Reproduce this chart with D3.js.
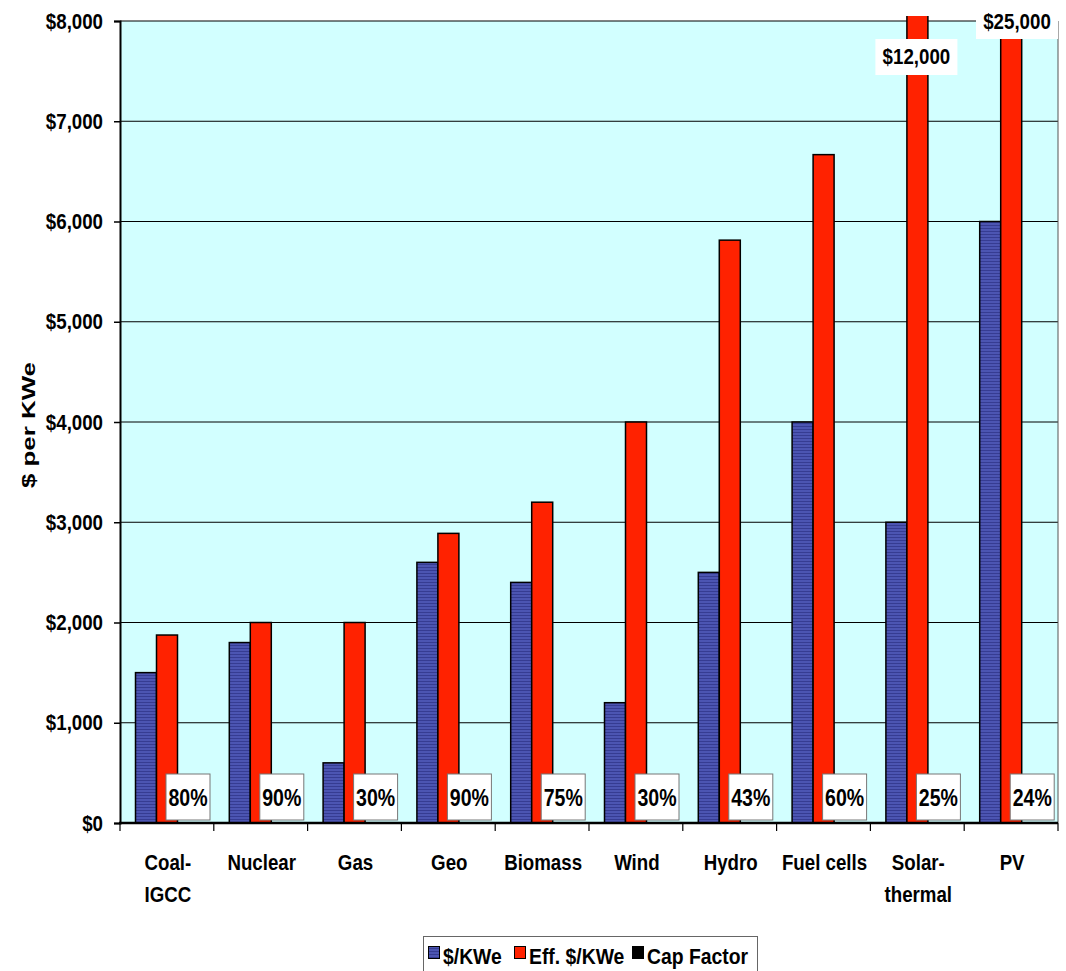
<!DOCTYPE html>
<html>
<head>
<meta charset="utf-8">
<script src="https://cdn.jsdelivr.net/npm/d3@7"></script>
<style>
  body { margin: 0; background: #fff; }
  text { font-family: "Liberation Sans", Arial, sans-serif; font-weight: bold; fill: #000; }
</style>
</head>
<body>
<div id="chart"></div>
<script>
const width = 1066;
const height = 971;

// data
const categories = ["Coal-\nIGCC", "Nuclear", "Gas", "Geo", "Biomass", "Wind", "Hydro", "Fuel cells", "Solar-\nthermal", "PV"];
const seriesNames = ["$/KWe", "Eff. $/KWe", "Cap Factor"];
const costPerKWe = [1500, 1800, 600, 2600, 2400, 1200, 2500, 4000, 3000, 6000];
const effCostPerKWe = [1875, 2000, 2000, 2889, 3200, 4000, 5814, 6667, 12000, 25000];
const capFactor = [0.80, 0.90, 0.30, 0.90, 0.75, 0.30, 0.43, 0.60, 0.25, 0.24];
const capLabels = ["80%", "90%", "30%", "90%", "75%", "30%", "43%", "60%", "25%", "24%"];
const yTicks = [0, 1000, 2000, 3000, 4000, 5000, 6000, 7000, 8000];
const overflowLabels = [{cat: 8, text: "$12,000"}, {cat: 9, text: "$25,000"}];

const margin = {top: 21, right: 8, bottom: 148, left: 120};
const plotW = width - margin.left - margin.right;
const plotH = height - margin.top - margin.bottom;
const sx = 0.85; // narrow font squeeze (no Arial Narrow installed)

// squeeze a text horizontally around its own x
function narrow(sel, k) {
  sel.each(function() {
    const t = d3.select(this);
    const x = +t.attr("x") || 0;
    t.attr("x", x / k).attr("transform", `scale(${k},1)`);
    t.selectAll("tspan").attr("x", x / k);
  });
}

const svg = d3.select("#chart")
  .append("svg")
    .attr("width", width)
    .attr("height", height);

const defs = svg.append("defs");
const stripes = defs.append("pattern")
  .attr("id", "blueStripes")
  .attr("patternUnits", "userSpaceOnUse")
  .attr("width", 4)
  .attr("height", 3);
stripes.append("rect").attr("width", 4).attr("height", 3).attr("fill", "#4c55b2");
stripes.append("rect").attr("width", 4).attr("height", 1).attr("fill", "#363c92");

defs.append("clipPath")
  .attr("id", "barClip")
  .append("rect")
    .attr("x", margin.left)
    .attr("y", 16)
    .attr("width", plotW)
    .attr("height", plotH + 6);

/* ----------------------- scales ----------------------- */
const x0 = d3.scaleBand()
  .domain(d3.range(categories.length))
  .range([margin.left, margin.left + plotW]);

const x1 = d3.scaleBand()
  .domain(seriesNames)
  .range([15.5, 78.5]);

const y = d3.scaleLinear()
  .domain([0, 8000])
  .range([margin.top + plotH, margin.top]);

// plot background
svg.append("rect")
  .attr("x", margin.left)
  .attr("y", margin.top)
  .attr("width", plotW)
  .attr("height", plotH)
  .attr("fill", "#d2ffff");

// gridlines
svg.append("g")
  .selectAll("line")
  .data(yTicks.slice(1))
  .join("line")
    .attr("x1", margin.left)
    .attr("x2", margin.left + plotW)
    .attr("y1", d => y(d))
    .attr("y2", d => y(d))
    .attr("stroke", "#000")
    .attr("stroke-width", 1);

// right border
svg.append("line")
  .attr("x1", margin.left + plotW).attr("x2", margin.left + plotW)
  .attr("y1", margin.top).attr("y2", margin.top + plotH)
  .attr("stroke", "#555").attr("stroke-width", 1);

/* ----------------------- bars ----------------------- */
const rows = categories.map((c, i) => ({
  i: i,
  vals: [
    {s: seriesNames[0], v: costPerKWe[i], fill: "url(#blueStripes)"},
    {s: seriesNames[1], v: effCostPerKWe[i], fill: "#ff2200"},
    {s: seriesNames[2], v: capFactor[i], fill: "#000"}
  ]
}));

const barG = svg.append("g").attr("clip-path", "url(#barClip)");
barG.selectAll("g")
  .data(rows)
  .join("g")
    .attr("transform", d => `translate(${x0(d.i)},0)`)
  .selectAll("rect")
  .data(d => d.vals)
  .join("rect")
    .attr("x", d => x1(d.s))
    .attr("width", x1.bandwidth())
    .attr("y", d => y(d.v))
    .attr("height", d => y(0) - y(d.v))
    .attr("fill", d => d.fill)
    .attr("stroke", "#000")
    .attr("stroke-width", 1.5);

// cap factor labels
const capG = svg.append("g")
  .selectAll("g")
  .data(capLabels)
  .join("g")
    .attr("transform", (d, i) => `translate(${x0(i) + x1(seriesNames[2]) + x1.bandwidth() / 2},${y(0) - 3})`);
capG.append("rect")
  .attr("x", -22)
  .attr("y", -46)
  .attr("width", 44)
  .attr("height", 46)
  .attr("fill", "#fff")
  .attr("stroke", "#777")
  .attr("stroke-width", 1);
capG.append("text")
  .attr("text-anchor", "middle")
  .attr("y", -14)
  .attr("font-size", 23)
  .text(d => d)
  .call(narrow, sx);

// overflow labels
const ovX = d => d.cat === 9 ? margin.left + plotW - 41 : x0(d.cat) + x1(seriesNames[1]) + x1.bandwidth() / 2 - 1;
const ovG = svg.append("g")
  .selectAll("g")
  .data(overflowLabels)
  .join("g");
ovG.append("rect")
  .attr("x", d => ovX(d) - 41)
  .attr("y", d => d.cat === 9 ? 0 : 39)
  .attr("width", 82)
  .attr("height", d => d.cat === 9 ? 39 : 36)
  .attr("fill", "#fff");
ovG.append("text")
  .attr("x", ovX)
  .attr("y", d => d.cat === 9 ? 29 : 64)
  .attr("text-anchor", "middle")
  .attr("font-size", 22)
  .text(d => d.text)
  .call(narrow, sx);

/* ----------------------- axes ----------------------- */
const yAxis = svg.append("g")
  .attr("transform", `translate(${margin.left},0)`)
  .call(d3.axisLeft(y).tickValues(yTicks).tickFormat(d => "$" + d3.format(",")(d)).tickSize(6).tickPadding(11));
yAxis.select(".domain").attr("stroke", "#000").attr("stroke-width", 2);
yAxis.selectAll(".tick line").attr("stroke", "#000").attr("stroke-width", 1.5);
yAxis.selectAll("text")
  .attr("font-size", 22)
  .attr("fill", "#000")
  .style("font-family", "'Liberation Sans', Arial, sans-serif")
  .style("font-weight", "bold")
  .call(narrow, sx);

// x axis line and ticks
svg.append("line")
  .attr("x1", margin.left - 1).attr("x2", margin.left + plotW)
  .attr("y1", y(0)).attr("y2", y(0))
  .attr("stroke", "#000").attr("stroke-width", 2.5);
svg.append("g")
  .selectAll("line")
  .data(d3.range(categories.length + 1))
  .join("line")
    .attr("x1", i => margin.left + i * x0.step())
    .attr("x2", i => margin.left + i * x0.step())
    .attr("y1", y(0))
    .attr("y2", y(0) + 8)
    .attr("stroke", "#000")
    .attr("stroke-width", 1.2);

const xLabG = svg.append("g")
  .selectAll("g")
  .data(categories)
  .join("g")
    .attr("transform", (d, i) => `translate(${x0(i) + x0.bandwidth() / 2 + 1},870)`);
const xLab = xLabG.append("text")
  .attr("text-anchor", "middle")
  .attr("font-size", 22);
xLab.selectAll("tspan")
  .data(d => d.split("\n"))
  .join("tspan")
    .attr("x", 0)
    .attr("y", (d, i) => i * 32)
    .text(d => d);
xLab.call(narrow, sx);

// y title (stretched along its baseline like the original)
svg.append("text")
  .attr("transform", "translate(35,425) rotate(-90)")
  .attr("text-anchor", "middle")
  .attr("font-size", 18)
  .attr("textLength", 126)
  .attr("lengthAdjust", "spacingAndGlyphs")
  .text("$ per KWe");

/* ----------------------- legend ----------------------- */
const legend = svg.append("g").attr("class", "legend");
legend.append("rect")
  .attr("x", 423.5)
  .attr("y", 936.5)
  .attr("width", 334)
  .attr("height", 40)
  .attr("fill", "#fff")
  .attr("stroke", "#666")
  .attr("stroke-width", 1);

const legendItems = [
  {name: seriesNames[0], fill: "url(#blueStripes)", x: 428},
  {name: seriesNames[1], fill: "#ff2200", x: 514},
  {name: seriesNames[2], fill: "#000", x: 632}
];
const li = legend.selectAll(".li")
  .data(legendItems)
  .join("g")
    .attr("class", "li")
    .attr("transform", d => `translate(${d.x},0)`);
li.append("rect")
  .attr("x", 0.5)
  .attr("y", 946.5)
  .attr("width", 11)
  .attr("height", 12)
  .attr("fill", d => d.fill)
  .attr("stroke", "#000")
  .attr("stroke-width", 1);
li.append("text")
  .attr("x", 15)
  .attr("y", 964)
  .attr("font-size", 22)
  .text(d => d.name)
  .call(narrow, 0.88);
</script>
</body>
</html>
